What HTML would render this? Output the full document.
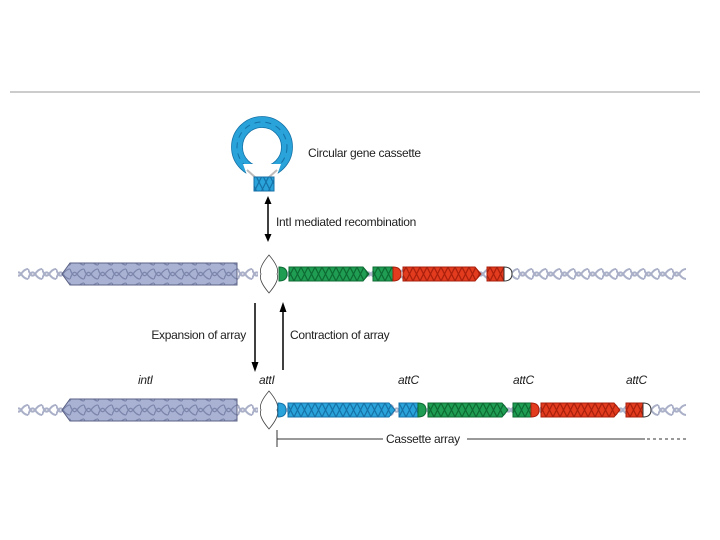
<!DOCTYPE html>
<html><head><meta charset="utf-8"><style>
html,body{margin:0;padding:0;background:#fff;width:720px;height:540px;overflow:hidden}
svg{display:block}
text{font-family:"Liberation Sans",sans-serif;font-size:12px;fill:#222;letter-spacing:-0.3px}
</style></head><body>
<svg width="720" height="540" viewBox="0 0 720 540" xmlns="http://www.w3.org/2000/svg">
<defs>
<pattern id="hb" width="14" height="14" patternUnits="userSpaceOnUse"><rect width="14" height="14" fill="#29a3d9"/><path d="M0 0L7 14M7 0L0 14M7 0L14 14M14 0L7 14" stroke="#1572a8" stroke-width="1.2" fill="none"/></pattern>
<pattern id="hg" width="14" height="14" patternUnits="userSpaceOnUse"><rect width="14" height="14" fill="#1f9d52"/><path d="M0 0L7 14M7 0L0 14M7 0L14 14M14 0L7 14" stroke="#0d6a33" stroke-width="1.2" fill="none"/></pattern>
<pattern id="hr" width="14" height="14" patternUnits="userSpaceOnUse"><rect width="14" height="14" fill="#e23b1e"/><path d="M0 0L7 14M7 0L0 14M7 0L14 14M14 0L7 14" stroke="#a81f0c" stroke-width="1.2" fill="none"/></pattern>
<pattern id="hp" width="14" height="14" patternUnits="userSpaceOnUse"><rect width="14" height="14" fill="#a9b2d2"/><path d="M0 2Q3.5 12 7 7T14 2M0 12Q3.5 2 7 7T14 12" stroke="#7c86ac" stroke-width="1.3" fill="none"/></pattern>
<pattern id="hx" width="14" height="14" patternUnits="userSpaceOnUse"><path d="M0 2Q3.5 12 7 7T14 2M0 12Q3.5 2 7 7T14 12" stroke="#aab0c8" stroke-width="2" fill="none"/></pattern>
</defs>
<line x1="10" y1="92" x2="700" y2="92" stroke="#bbb" stroke-width="1.5"/>

<!-- Circular cassette -->
<circle cx="262" cy="147" r="25" fill="none" stroke="#29a3d9" stroke-width="11"/>
<circle cx="262" cy="147" r="25" fill="none" stroke="#1572a8" stroke-width="1" stroke-dasharray="6 5"/>
<circle cx="262" cy="147" r="30.5" fill="none" stroke="#1572a8" stroke-width="0.8"/>
<circle cx="262" cy="147" r="19.5" fill="none" stroke="#1572a8" stroke-width="0.8"/>
<path d="M243 164 L253 192 L271 192 L281 164Z" fill="#fff"/>
<path d="M247 170 L256 178 M277 170 L268 178" stroke="#bbb" stroke-width="2"/>
<rect x="254" y="177" width="20" height="14" fill="url(#hb)" stroke="#1572a8" stroke-width="1"/>
<text x="308" y="157" font-size="12.5">Circular gene cassette</text>
<line x1="268" y1="202" x2="268" y2="236" stroke="#000" stroke-width="1.5"/>
<path d="M268 196 L264.5 204 L271.5 204Z M268 242 L264.5 234 L271.5 234Z" fill="#000"/>
<text x="276" y="226" font-size="12.5">IntI mediated recombination</text>

<!-- Top row -->
<g transform="translate(0,267)">
<rect x="18" y="0" width="668" height="14" fill="url(#hx)"/>
<rect x="258" y="-5" width="24" height="24" fill="#fff"/>
<path d="M62 7 L70 -4 L237 -4 L237 18 L70 18Z" fill="url(#hp)" stroke="#5a6184" stroke-width="1"/>
<path d="M269 -12 Q258 1 261 7 Q258 13 269 26 Q280 13 277 7 Q280 1 269 -12Z" fill="#fff" stroke="#444" stroke-width="0.8"/>
<path d="M279 0 Q287 0 287 7 Q287 14 279 14Z" fill="#1f9d52" stroke="#0d6a33"/>
<path d="M289 0 L363 0 L369 7 L363 14 L289 14Z" fill="url(#hg)" stroke="#0d6a33"/>
<rect x="373" y="0" width="20" height="14" fill="url(#hg)" stroke="#0d6a33"/>
<path d="M393 0 Q401 0 401 7 Q401 14 393 14Z" fill="#e23b1e" stroke="#a81f0c"/>
<path d="M403 0 L475 0 L481 7 L475 14 L403 14Z" fill="url(#hr)" stroke="#a81f0c"/>
<rect x="487" y="0" width="17" height="14" fill="url(#hr)" stroke="#a81f0c"/>
<path d="M504 0 Q512 0 512 7 Q512 14 504 14Z" fill="#fff" stroke="#333"/>
</g>

<!-- arrows -->
<line x1="255" y1="303" x2="255" y2="363" stroke="#000" stroke-width="1.5"/>
<path d="M255 372 L251.5 362 L258.5 362Z" fill="#000"/>
<line x1="283" y1="312" x2="283" y2="370" stroke="#000" stroke-width="1.5"/>
<path d="M283 302 L279.5 312 L286.5 312Z" fill="#000"/>
<text x="246" y="339" text-anchor="end" font-size="12.5">Expansion of array</text>
<text x="290" y="339" font-size="12.5">Contraction of array</text>

<text x="138" y="384" font-style="italic" font-size="12.5">intI</text>
<text x="259" y="384" font-style="italic" font-size="12.5">attI</text>
<text x="398" y="384" font-style="italic" font-size="12.5">attC</text>
<text x="513" y="384" font-style="italic" font-size="12.5">attC</text>
<text x="626" y="384" font-style="italic" font-size="12.5">attC</text>

<!-- Bottom row -->
<g transform="translate(0,403)">
<rect x="18" y="0" width="668" height="14" fill="url(#hx)"/>
<rect x="258" y="-5" width="24" height="24" fill="#fff"/>
<path d="M62 7 L70 -4 L237 -4 L237 18 L70 18Z" fill="url(#hp)" stroke="#5a6184" stroke-width="1"/>
<path d="M269 -12 Q258 1 261 7 Q258 13 269 26 Q280 13 277 7 Q280 1 269 -12Z" fill="#fff" stroke="#444" stroke-width="0.8"/>
<path d="M278 0 Q286 0 286 7 Q286 14 278 14Z" fill="#29a3d9" stroke="#1572a8"/>
<path d="M288 0 L389 0 L395 7 L389 14 L288 14Z" fill="url(#hb)" stroke="#1572a8"/>
<rect x="399" y="0" width="19" height="14" fill="url(#hb)" stroke="#1572a8"/>
<path d="M418 0 Q426 0 426 7 Q426 14 418 14Z" fill="#1f9d52" stroke="#0d6a33"/>
<path d="M428 0 L502 0 L508 7 L502 14 L428 14Z" fill="url(#hg)" stroke="#0d6a33"/>
<rect x="513" y="0" width="18" height="14" fill="url(#hg)" stroke="#0d6a33"/>
<path d="M531 0 Q539 0 539 7 Q539 14 531 14Z" fill="#e23b1e" stroke="#a81f0c"/>
<path d="M541 0 L614 0 L620 7 L614 14 L541 14Z" fill="url(#hr)" stroke="#a81f0c"/>
<rect x="626" y="0" width="17" height="14" fill="url(#hr)" stroke="#a81f0c"/>
<path d="M643 0 Q651 0 651 7 Q651 14 643 14Z" fill="#fff" stroke="#333"/>
</g>

<!-- cassette array -->
<line x1="277" y1="430" x2="277" y2="447" stroke="#333" stroke-width="1"/>
<line x1="277" y1="439" x2="383" y2="439" stroke="#333" stroke-width="1"/>
<text x="386" y="443" font-size="12.5">Cassette array</text>
<line x1="467" y1="439" x2="645" y2="439" stroke="#333" stroke-width="1"/>
<line x1="647" y1="439" x2="686" y2="439" stroke="#333" stroke-width="1" stroke-dasharray="3 3"/>
</svg>
</body></html>
